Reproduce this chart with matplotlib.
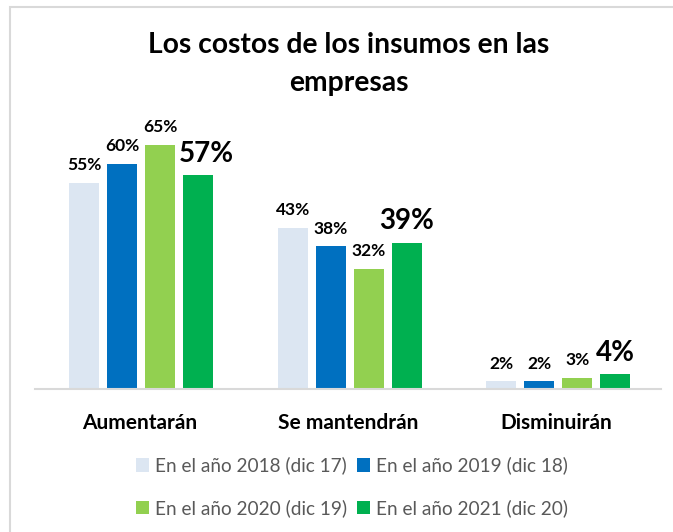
import matplotlib
matplotlib.use("Agg")
import matplotlib.pyplot as plt
from matplotlib.patches import Patch, Rectangle
import numpy as np

categories = ["Aumentarán", "Se mantendrán", "Disminuirán"]
series_names = ["En el año 2018 (dic 17)", "En el año 2019 (dic 18)",
                "En el año 2020 (dic 19)", "En el año 2021 (dic 20)"]
v2018 = [55, 43, 2]
v2019 = [60, 38, 2]
v2020 = [65, 32, 3]
v2021 = [57, 39, 4]
colors = ["#DCE6F2", "#0070C0", "#92D050", "#00B050"]

plt.rcParams['font.family'] = ['Lato', 'DejaVu Sans']

fig = plt.figure(figsize=(6.73, 5.32), dpi=100)
# outer frame (light gray)
fig.patches.append(Rectangle((10/673, -0.1), 1.1, (532-7)/532 + 0.1, transform=fig.transFigure,
                             fill=False, edgecolor="#D9D9D9", linewidth=1.5))

ax = fig.add_axes([35/673, 1-389/532, (661-35)/673, (389-120)/532])
x = np.arange(len(categories))
step = 0.182
width = 0.145
all_vals = [v2018, v2019, v2020, v2021]
for i, (vals, col) in enumerate(zip(all_vals, colors)):
    pos = x + (i - 1.5) * step + 0.008
    ax.bar(pos, vals, width, color=col, label=series_names[i])
    for j, (px, v) in enumerate(zip(pos, vals)):
        big = (i == 3)
        dx = 6 if (big and j == 0) else 0
        ax.annotate(f"{v}%", (px, v), xytext=(dx, 7 if not big else 6), textcoords="offset points",
                    ha="center", va="bottom", fontweight="bold",
                    fontsize=20 if big else 12.5, color="#000000")

ax.set_xlim(-0.5, 2.5)
ax.set_ylim(0, 71.7)
ax.set_yticks([])
for s in ["top", "right", "left"]:
    ax.spines[s].set_visible(False)
ax.spines["bottom"].set_color("#D9D9D9")
ax.spines["bottom"].set_linewidth(1.5)
ax.set_xticks(x)
ax.set_xticklabels(categories, fontweight="bold", fontsize=15)
ax.tick_params(axis="x", length=0, pad=17)

fig.text(349/673, 1-45/532, "Los costos de los insumos en las", ha="center", va="center",
         fontsize=20.3, fontweight="bold")
fig.text(349/673, 1-83/532, "empresas", ha="center", va="center",
         fontsize=20.3, fontweight="bold")

handles = [Patch(facecolor=c, edgecolor="none") for c in colors]
order = [0, 2, 1, 3]
fig.legend([handles[k] for k in order], [series_names[k] for k in order],
           loc="center", bbox_to_anchor=(352/673, 1-487/532), ncol=2, frameon=False,
           fontsize=13.7, labelcolor="#595959", handlelength=0.7, handleheight=0.7,
           handletextpad=0.3, columnspacing=0.5, labelspacing=1.3)

fig.savefig("out.png", dpi=100)
